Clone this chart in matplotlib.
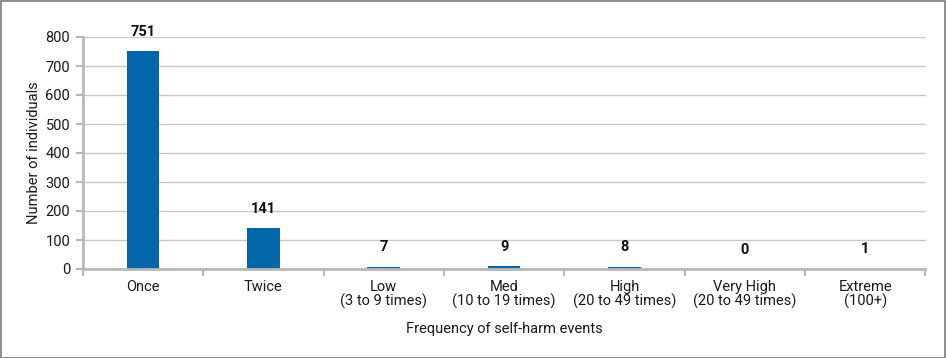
import matplotlib
matplotlib.use("Agg")
import matplotlib.pyplot as plt
from matplotlib.patches import Rectangle

categories = ["Once", "Twice", "Low\n(3 to 9 times)", "Med\n(10 to 19 times)",
              "High\n(20 to 49 times)", "Very High\n(20 to 49 times)", "Extreme\n(100+)"]
values = [751, 141, 7, 9, 8, 0, 1]
yticks = [0, 100, 200, 300, 400, 500, 600, 700, 800]

plt.rcParams['font.family'] = ['Roboto', 'DejaVu Sans']

W, H = 946, 358
fig = plt.figure(figsize=(W/100, H/100), dpi=100)
ax = fig.add_axes([82.7/W, 1-269/H, (925.5-82.7)/W, (269-37)/H])

x = list(range(len(categories)))
ax.bar(x, values, width=0.27, color="#0366a8", zorder=3)
ax.set_xlim(-0.5, len(categories)-0.5)
ax.set_ylim(0, 800)
ax.set_yticks(yticks)
ax.set_yticklabels([str(v) for v in yticks], fontsize=10.5, color="#1a1a1a")
ax.set_xticks(x)
ax.set_xticklabels(categories, fontsize=10.5, color="#1a1a1a", linespacing=1.0)
ax.tick_params(axis='x', length=0, pad=8)
ax.tick_params(axis='y', length=5, width=1.5, color="#b8b8b8", pad=4)
# category boundary ticks
ax.set_xticks([i-0.5 for i in range(len(categories)+1)], minor=True)
ax.tick_params(axis='x', which='minor', length=5, width=1.5, color="#b8b8b8")
ax.grid(axis='y', color="#c8c8c8", linewidth=1.0, zorder=0)
for s in ['top', 'right']:
    ax.spines[s].set_visible(False)
for s in ['left', 'bottom']:
    ax.spines[s].set_color("#b8b8b8")
    ax.spines[s].set_linewidth(2)
    ax.spines[s].set_zorder(4)

for xi, v in zip(x, values):
    ax.annotate(str(v), (xi, v), xytext=(0, 9), textcoords='offset points',
                ha='center', va='bottom', fontsize=10.5, fontweight='bold', color="#111111")

ax.set_ylabel("Number of individuals", fontsize=10.5, color="#1a1a1a", labelpad=3)
ax.set_xlabel("Frequency of self-harm events", fontsize=10.5, color="#1a1a1a", labelpad=9)

fig.patches.append(Rectangle((0.5/W, 0.5/H), 1-1.5/W, 1-1.5/H, transform=fig.transFigure,
                             fill=False, edgecolor="#7a7a7a", linewidth=1.2))
fig.savefig("out.png", dpi=100, facecolor="white")
